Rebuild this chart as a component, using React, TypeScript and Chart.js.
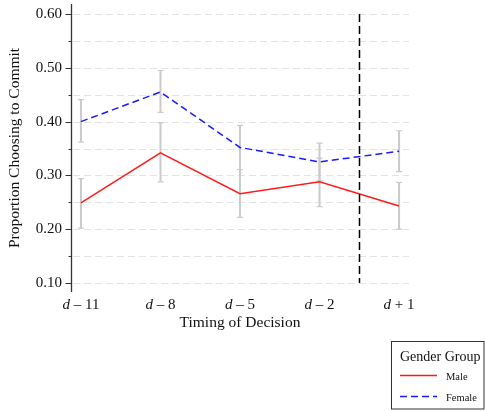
import React, { useEffect, useRef } from "react";
import { Chart, registerables } from "chart.js";

Chart.register(...registerables);

const tickLabels = ["d – 11", "d – 8", "d – 5", "d – 2", "d + 1"];
const maleMean = [0.249, 0.342, 0.266, 0.288, 0.243];
const maleLower = [0.202, 0.288, 0.222, 0.242, 0.2];
const maleUpper = [0.294, 0.398, 0.311, 0.332, 0.287];
const femaleMean = [0.4, 0.455, 0.352, 0.325, 0.345];
const femaleLower = [0.362, 0.417, 0.311, 0.29, 0.307];
const femaleUpper = [0.441, 0.495, 0.393, 0.36, 0.383];
const yTicks = [0.1, 0.15, 0.2, 0.25, 0.3, 0.35, 0.4, 0.45, 0.5, 0.55, 0.6];
const cutoffX = 3.5;
const legendTitle = "Gender Group";
const seriesNames = ["Male", "Female"];

const FONT = "'Liberation Serif', 'Times New Roman', serif";

const plugin = {
  id: "extras",
  beforeDatasetsDraw(chart: any) {
    const { ctx, chartArea } = chart;
    const xs = chart.scales.x;
    const ys = chart.scales.y;
    ctx.save();
    // grid lines
    ctx.strokeStyle = "#e3e3e3";
    ctx.lineWidth = 1;
    ctx.setLineDash([7, 4]);
    yTicks.forEach((v) => {
      const y = Math.round(ys.getPixelForValue(v)) + 0.5;
      ctx.beginPath();
      ctx.moveTo(chartArea.left + 2, y);
      ctx.lineTo(chartArea.right, y);
      ctx.stroke();
    });
    ctx.setLineDash([]);
    // error bars
    const bars = [
      [maleLower, maleUpper],
      [femaleLower, femaleUpper],
    ];
    ctx.strokeStyle = "#cacaca";
    bars.forEach(([lo, hi]) => {
      lo.forEach((l, i) => {
        const x = xs.getPixelForValue(i);
        const y1 = ys.getPixelForValue(l);
        const y2 = ys.getPixelForValue(hi[i]);
        ctx.lineWidth = 2;
        ctx.beginPath();
        ctx.moveTo(x, y1);
        ctx.lineTo(x, y2);
        ctx.stroke();
        ctx.lineWidth = 1.2;
        ctx.beginPath();
        ctx.moveTo(x - 3, y1);
        ctx.lineTo(x + 3, y1);
        ctx.moveTo(x - 3, y2);
        ctx.lineTo(x + 3, y2);
        ctx.stroke();
      });
    });
    ctx.restore();
  },
  afterDatasetsDraw(chart: any) {
    const { ctx, chartArea } = chart;
    const xs = chart.scales.x;
    const ys = chart.scales.y;
    ctx.save();
    // cutoff line
    const cx = Math.round(xs.getPixelForValue(cutoffX)) + 0.5;
    ctx.strokeStyle = "#000";
    ctx.lineWidth = 1.5;
    ctx.setLineDash([8, 4]);
    ctx.beginPath();
    ctx.moveTo(cx, ys.getPixelForValue(0.6));
    ctx.lineTo(cx, ys.getPixelForValue(0.1));
    ctx.stroke();
    ctx.setLineDash([]);
    // y axis line and ticks
    const ax = chartArea.left + 0.5;
    ctx.strokeStyle = "#333";
    ctx.lineWidth = 1.3;
    ctx.beginPath();
    ctx.moveTo(ax, chartArea.top);
    ctx.lineTo(ax, chartArea.bottom);
    ctx.stroke();
    ctx.lineWidth = 1;
    yTicks.forEach((v, i) => {
      const y = Math.round(ys.getPixelForValue(v)) + 0.5;
      const len = i % 2 === 0 ? 6 : 3;
      ctx.beginPath();
      ctx.moveTo(ax - len, y);
      ctx.lineTo(ax, y);
      ctx.stroke();
    });
    // x tick labels with italic d
    ctx.fillStyle = "#111";
    ctx.textBaseline = "middle";
    ctx.textAlign = "left";
    const ly = chartArea.bottom + 13;
    tickLabels.forEach((lab, i) => {
      const first = lab.slice(0, 1);
      const rest = lab.slice(1);
      ctx.font = `italic 15px ${FONT}`;
      const w1 = ctx.measureText(first).width;
      ctx.font = `15px ${FONT}`;
      const w2 = ctx.measureText(rest).width;
      const x0 = xs.getPixelForValue(i) - (w1 + w2) / 2;
      ctx.font = `italic 15px ${FONT}`;
      ctx.fillText(first, x0, ly);
      ctx.font = `15px ${FONT}`;
      ctx.fillText(rest, x0 + w1, ly);
    });
    ctx.restore();
  },
  afterDraw(chart: any) {
    const { ctx } = chart;
    const ds = chart.data.datasets;
    ctx.save();
    ctx.strokeStyle = "#333";
    ctx.lineWidth = 1;
    ctx.strokeRect(391.5, 341.5, 92.5, 67.5);
    ctx.fillStyle = "#111";
    ctx.textBaseline = "middle";
    ctx.textAlign = "left";
    ctx.font = `14px ${FONT}`;
    ctx.fillText(legendTitle, 400, 357);
    const rows = [375, 396];
    seriesNames.forEach((name, i) => {
      const d = ds[i];
      ctx.strokeStyle = d.borderColor;
      ctx.lineWidth = 1.5;
      ctx.setLineDash(d.borderDash || []);
      ctx.beginPath();
      ctx.moveTo(400, rows[i] + 0.5);
      ctx.lineTo(437, rows[i] + 0.5);
      ctx.stroke();
      ctx.setLineDash([]);
      ctx.font = `10.5px ${FONT}`;
      ctx.fillText(name, 446, rows[i] + 2);
    });
    ctx.restore();
  },
};

export default function App() {
  const ref = useRef<HTMLCanvasElement>(null);
  useEffect(() => {
    document.body.style.margin = "0";
    Chart.defaults.font.family = FONT;
    const chart = new Chart(ref.current as HTMLCanvasElement, {
      type: "line",
      data: {
        datasets: [
          {
            label: seriesNames[0],
            data: maleMean.map((v, i) => ({ x: i, y: v })),
            borderColor: "#ff1a1a",
            borderWidth: 1.5,
            pointRadius: 0,
            fill: false,
            tension: 0,
          },
          {
            label: seriesNames[1],
            data: femaleMean.map((v, i) => ({ x: i, y: v })),
            borderColor: "#1a1aff",
            borderWidth: 1.5,
            borderDash: [7, 4],
            pointRadius: 0,
            fill: false,
            tension: 0,
          },
        ],
      },
      options: {
        responsive: false,
        animation: false,
        layout: { padding: { left: 0, right: 76, top: 4, bottom: 79 } },
        plugins: {
          legend: { display: false },
          tooltip: { enabled: false },
        },
        scales: {
          x: {
            type: "linear",
            min: -0.125,
            max: 4.125,
            grid: { display: false, drawTicks: false },
            border: { display: false },
            ticks: { display: false },
            afterBuildTicks: (s: any) => {
              s.ticks = tickLabels.map((_, i) => ({ value: i }));
            },
            afterFit: (s: any) => {
              s.height = 40;
              s.paddingLeft = 0;
              s.paddingRight = 0;
              s.paddingTop = 0;
              s.paddingBottom = 0;
            },
            title: {
              display: true,
              text: "Timing of Decision",
              color: "#111",
              font: { size: 15.5, family: FONT },
              padding: { top: 0, bottom: 0 },
            },
          },
          y: {
            type: "linear",
            min: 0.0833,
            max: 0.6186,
            grid: { display: false, drawTicks: false },
            border: { display: false },
            afterBuildTicks: (s: any) => {
              s.ticks = yTicks.map((v) => ({ value: v }));
            },
            afterFit: (s: any) => {
              s.width = 71;
              s.paddingLeft = 0;
              s.paddingRight = 0;
              s.paddingTop = 0;
              s.paddingBottom = 0;
            },
            ticks: {
              padding: 9,
              color: "#111",
              font: { size: 15, family: FONT },
              callback: (v: any) => {
                const n = Math.round(Number(v) * 100);
                return n % 10 === 0 ? (n / 100).toFixed(2) : "";
              },
            },
            title: {
              display: true,
              text: "Proportion Choosing to Commit",
              color: "#111",
              font: { size: 15.5, family: FONT },
              padding: { top: 6, bottom: 0 },
            },
          },
        },
      },
      plugins: [plugin],
    } as any);
    return () => chart.destroy();
  }, []);
  return (
    <div style={{ width: 485, height: 411 }}>
      <canvas ref={ref} width={485} height={411} />
    </div>
  );
}
